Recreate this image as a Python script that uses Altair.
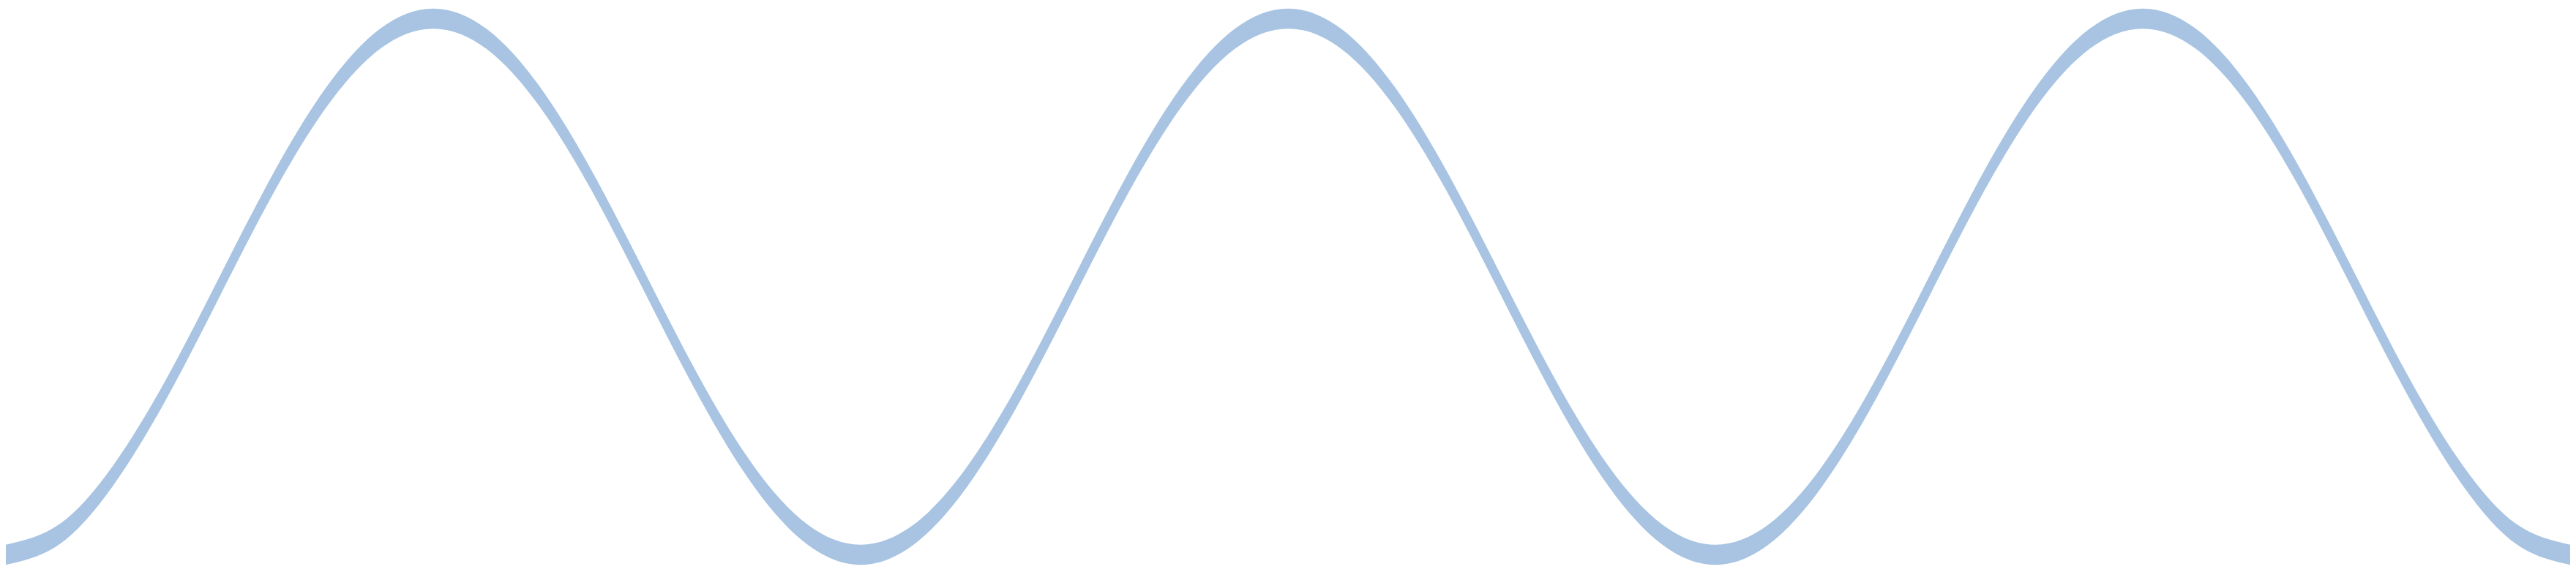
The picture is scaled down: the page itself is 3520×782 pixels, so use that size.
import altair as alt
import pandas as pd

# wave samples: 1.5 periods, trough -> peak -> trough -> peak -> trough
half_up = [-1, -0.924, -0.707, -0.383, 0, 0.383, 0.707, 0.924, 1]
half_down = [0.924, 0.707, 0.383, 0, -0.383, -0.707, -0.924, -1]
half_up2 = [-0.924, -0.707, -0.383, 0, 0.383, 0.707, 0.924, 1]
ys = half_up + half_down + half_up2 + half_down + half_up2 + half_down
xs = list(range(len(ys)))
band = 0.075

df = pd.DataFrame({"x": xs, "y": ys, "y2": [v - band for v in ys]})

chart = alt.Chart(df).mark_area(color="#a8c4e2", interpolate="natural").encode(
    x=alt.X("x:Q", axis=None, scale=alt.Scale(domain=[0, len(ys) - 1], nice=False, zero=False)),
    y=alt.Y("y:Q", axis=None, scale=alt.Scale(domain=[-1 - band - 0.005, 1.01], nice=False, zero=False)),
    y2="y2:Q",
).properties(width=3504, height=766, padding=0).configure_view(stroke=None)

chart.save("out.html", embed_options={"renderer": "svg", "actions": False})
